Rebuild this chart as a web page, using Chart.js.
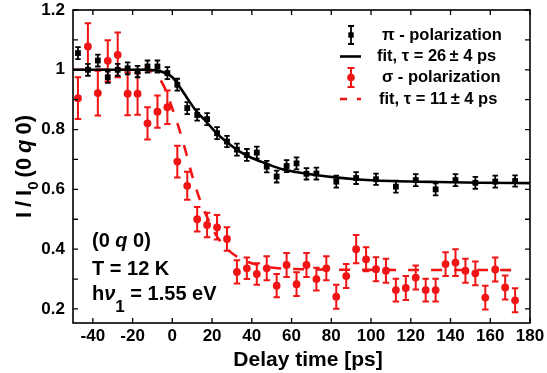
<!DOCTYPE html>
<html><head><meta charset="utf-8">
<script src="https://cdn.jsdelivr.net/npm/chart.js@4"></script>
<style>html,body{margin:0;padding:0;background:#fff}canvas{display:block}</style>
</head><body>
<canvas id="c" width="547" height="373"></canvas>
<script>
// ---- data ----
const piTime = [-47.5,-42.5,-37.5,-32.5,-27.5,-22.5,-17.5,-12.5,-7.5,-2.5,2.5,7.5,12.5,17.5,22.5,27.5,32.5,37.5,42.5,47.5,52.5,57.5,62.5,67.5,72.5,82.5,92.5,102.5,112.5,122.5,132.5,142.5,152.5,162.5,172.5];
const piValue = [1.056,1.000,1.031,0.975,1.000,1.005,0.994,1.011,1.011,0.989,0.950,0.872,0.849,0.835,0.788,0.760,0.733,0.715,0.723,0.676,0.643,0.678,0.687,0.652,0.653,0.626,0.638,0.634,0.609,0.631,0.600,0.631,0.622,0.626,0.628];
const piError = [0.020,0.020,0.020,0.019,0.020,0.020,0.019,0.020,0.020,0.020,0.020,0.020,0.019,0.020,0.020,0.019,0.020,0.020,0.020,0.019,0.020,0.020,0.020,0.019,0.020,0.020,0.020,0.019,0.020,0.020,0.020,0.020,0.020,0.020,0.019];

const sigmaTime = [-47.5,-42.5,-37.5,-32.5,-27.5,-22.5,-17.5,-12.5,-7.5,-2.5,2.5,7.5,12.5,17.5,22.5,27.5,32.5,37.5,42.5,47.5,52.5,57.5,62.5,67.5,72.5,77.5,82.5,87.5,92.5,97.5,102.5,107.5,112.5,117.5,122.5,127.5,132.5,137.5,142.5,147.5,152.5,157.5,162.5,167.5,172.5];
const sigmaValue = [0.905,1.078,0.922,1.030,1.050,0.920,0.920,0.821,0.860,0.875,0.693,0.612,0.500,0.481,0.473,0.434,0.324,0.336,0.317,0.336,0.278,0.347,0.283,0.347,0.300,0.336,0.241,0.310,0.400,0.366,0.333,0.328,0.263,0.270,0.305,0.263,0.263,0.350,0.355,0.328,0.319,0.238,0.332,0.272,0.229];
const sigmaError = [0.070,0.078,0.075,0.069,0.075,0.072,0.070,0.054,0.054,0.056,0.053,0.047,0.041,0.041,0.041,0.039,0.039,0.036,0.036,0.040,0.039,0.040,0.040,0.040,0.038,0.040,0.040,0.040,0.047,0.040,0.040,0.040,0.038,0.040,0.040,0.038,0.038,0.040,0.045,0.040,0.040,0.040,0.040,0.040,0.040];

const piFitTime  = [-50,-15,-8,-4,0,4,8,12,17,22,27,34,40,47,55,62,72,82,92,110,130,155,180];
const piFitValue = [1.000,1.000,0.998,0.990,0.975,0.940,0.900,0.862,0.827,0.790,0.760,0.726,0.705,0.687,0.668,0.658,0.648,0.640,0.634,0.628,0.625,0.622,0.621];

const sigmaFitTime  = [-50,-14,-10,-7,-4,0,4,7,10,14,18,22,27,32,38,45,52,65,90,175];
const sigmaFitValue = [1.000,1.000,0.994,0.975,0.942,0.870,0.790,0.720,0.645,0.563,0.500,0.447,0.405,0.377,0.357,0.345,0.337,0.333,0.331,0.330];

const xTicks = [-40,-20,0,20,40,60,80,100,120,140,160,180];
const yTicks = [0.2,0.4,0.6,0.8,1,1.2];
const yMinorTicks = [0.3,0.5,0.7,0.9,1.1];

const legendLabels = ['\u03c0 - polarization','fit, \u03c4 = 26\u2009\u00b1 4 ps','\u03c3 - polarization','fit, \u03c4 = 11\u2009\u00b1 4 ps'];

// ---- styling ----
const FAM = '"Liberation Sans", Arial, Helvetica, sans-serif';
const RED = '#f01414';
const BLACK = '#000';

function pts(xs, ys){ return xs.map((x,i)=>({x:x, y:ys[i]})); }

function drawErr(chart, times, vals, errs, color, cap, lw){
  const c = chart.ctx, xs = chart.scales.x, ys = chart.scales.y;
  c.save();
  c.strokeStyle = color; c.lineWidth = lw; c.lineCap = 'butt';
  for (let i=0;i<times.length;i++){
    const px = xs.getPixelForValue(times[i]);
    const t = ys.getPixelForValue(vals[i]+errs[i]);
    const b = ys.getPixelForValue(vals[i]-errs[i]);
    c.beginPath();
    c.moveTo(px,t); c.lineTo(px,b);
    c.moveTo(px-cap/2,t); c.lineTo(px+cap/2,t);
    c.moveTo(px-cap/2,b); c.lineTo(px+cap/2,b);
    c.stroke();
  }
  c.restore();
}

function drawPieces(c, pieces, x, y){
  let cx = x;
  for (const p of pieces){
    c.font = p[1];
    c.fillText(p[0], cx, y + (p[2]||0));
    cx += c.measureText(p[0]).width + (p[3]||0);
  }
  return cx;
}
function piecesWidth(c, pieces){
  let w=0;
  for (const p of pieces){ c.font=p[1]; w += c.measureText(p[0]).width + (p[3]||0); }
  return w;
}

const deco = {
  id:'deco',
  beforeDatasetDraw(chart, args){
    if (args.index === 1) drawErr(chart, piTime, piValue, piError, BLACK, 5.5, 1.8);
    if (args.index === 3) drawErr(chart, sigmaTime, sigmaValue, sigmaError, RED, 6.5, 2);
  },
  afterDraw(chart){
    const c = chart.ctx, a = chart.chartArea, xs = chart.scales.x, ys = chart.scales.y;
    c.save();
    c.strokeStyle = '#000'; c.lineWidth = 1.6;
    c.strokeRect(a.left, a.top, a.right-a.left, a.bottom-a.top);
    c.lineWidth = 1.3;
    c.beginPath();
    for (const v of xTicks){
      const px = xs.getPixelForValue(v);
      c.moveTo(px, a.bottom); c.lineTo(px, a.bottom-5);
      c.moveTo(px, a.top); c.lineTo(px, a.top+5);
    }
    for (const v of yTicks.concat(yMinorTicks)){
      const py = ys.getPixelForValue(v);
      c.moveTo(a.left, py); c.lineTo(a.left+5, py);
      c.moveTo(a.right, py); c.lineTo(a.right-5, py);
    }
    c.stroke();

    c.fillStyle = '#000';
    c.textBaseline = 'alphabetic';
    c.textAlign = 'left';
    c.font = 'bold 21px ' + FAM;
    const xt = 'Delay time [ps]';
    const xw = c.measureText(xt).width;
    c.fillText(xt, 308 - xw/2, 366);

    const B = 'bold 22px ' + FAM, BI = 'italic bold 22px ' + FAM, S = 'bold 15px ' + FAM;
    const yPieces = [['I',B,0,5],['/',B,0,5],['I',B,0,0],['0',S,7,4],['(0',B,0,5],['q',BI,0,5],['0)',B,0,0]];
    c.save();
    c.translate(31, (a.top+a.bottom)/2);
    c.rotate(-Math.PI/2);
    const yw = piecesWidth(c, yPieces);
    drawPieces(c, yPieces, -yw/2, 0);
    c.restore();

    const A = 'bold 20px ' + FAM, AI = 'italic bold 20px ' + FAM, AS = 'bold 17px ' + FAM;
    drawPieces(c, [['(0 ',A],['q',AI],[' 0)',A]], 92, 247);
    drawPieces(c, [['T = 12 K',A]], 92, 275);
    drawPieces(c, [['h',A],['\u03bd',AI,0,0],['1',AS,12,0],[' = 1.55 eV',A]], 92, 300);

    const L = 'bold 16.5px ' + FAM;
    c.font = L;
    c.textBaseline = 'middle';
    const rows = [35, 56.5, 77.5, 99];
    c.strokeStyle = BLACK; c.lineWidth = 1.8;
    c.beginPath();
    c.moveTo(351, rows[0]-9); c.lineTo(351, rows[0]+9);
    c.moveTo(348, rows[0]-9); c.lineTo(354, rows[0]-9);
    c.moveTo(348, rows[0]+9); c.lineTo(354, rows[0]+9);
    c.stroke();
    c.fillStyle = BLACK; c.fillRect(348.3, rows[0]-2.7, 5.4, 5.4);
    c.lineWidth = 2.6;
    c.beginPath(); c.moveTo(340, rows[1]); c.lineTo(361, rows[1]); c.stroke();
    c.strokeStyle = RED; c.lineWidth = 2;
    c.beginPath();
    c.moveTo(351, rows[2]-9.5); c.lineTo(351, rows[2]+9.5);
    c.moveTo(347.5, rows[2]-9.5); c.lineTo(354.5, rows[2]-9.5);
    c.moveTo(347.5, rows[2]+9.5); c.lineTo(354.5, rows[2]+9.5);
    c.stroke();
    c.fillStyle = RED; c.beginPath(); c.arc(351, rows[2], 3.8, 0, Math.PI*2); c.fill();
    c.lineWidth = 2.6; c.setLineDash([7,10]);
    c.beginPath(); c.moveTo(340, rows[3]); c.lineTo(361, rows[3]); c.stroke();
    c.setLineDash([]);
    c.fillStyle = '#000';
    const lx = [382, 377, 382, 379];
    for (let i=0;i<4;i++) c.fillText(legendLabels[i], lx[i], rows[i]);
    c.restore();
  }
};

new Chart(document.getElementById('c'), {
  type: 'scatter',
  data: { datasets: [
    { type:'line', label:'fit pi', data: pts(piFitTime, piFitValue), borderColor:BLACK, borderWidth:2.6,
      pointRadius:0, cubicInterpolationMode:'monotone', fill:false },
    { label:'pi', data: pts(piTime, piValue), pointStyle:'rect', pointRadius:4.1,
      backgroundColor:BLACK, borderColor:BLACK, borderWidth:0 },
    { type:'line', label:'fit sigma', data: pts(sigmaFitTime, sigmaFitValue), borderColor:RED, borderWidth:2.6,
      borderDash:[11,12], pointRadius:0, cubicInterpolationMode:'monotone', fill:false },
    { label:'sigma', data: pts(sigmaTime, sigmaValue), pointStyle:'circle', pointRadius:3.9,
      backgroundColor:RED, borderColor:RED, borderWidth:0 }
  ]},
  options: {
    responsive:false, animation:false, devicePixelRatio:1,
    layout:{ padding:{ left:0, right:17, top:10, bottom:0 } },
    plugins:{ legend:{display:false}, tooltip:{enabled:false} },
    scales:{
      x:{ type:'linear', min:-50, max:180,
        afterBuildTicks: s => { s.ticks = xTicks.map(v=>({value:v})); },
        afterFit: s => { s.height = 50; s.paddingLeft = 0; s.paddingRight = 0; },
        grid:{ display:false, drawTicks:false }, border:{ display:false },
        ticks:{ font:{ family:FAM, size:17, weight:'bold' }, color:'#000', padding:3, maxRotation:0, autoSkip:false,
          callback: v => String(Math.round(v)) } },
      y:{ type:'linear', min:0.153, max:1.2,
        afterBuildTicks: s => { s.ticks = yTicks.map(v=>({value:v})); },
        afterFit: s => { s.width = 73; s.paddingTop = 0; s.paddingBottom = 0; },
        grid:{ display:false, drawTicks:false }, border:{ display:false },
        ticks:{ font:{ family:FAM, size:17, weight:'bold' }, color:'#000', padding:8, autoSkip:false,
          callback: v => String(Number(v.toFixed(2))) } }
    }
  },
  plugins:[deco]
});
</script>
</body></html>
